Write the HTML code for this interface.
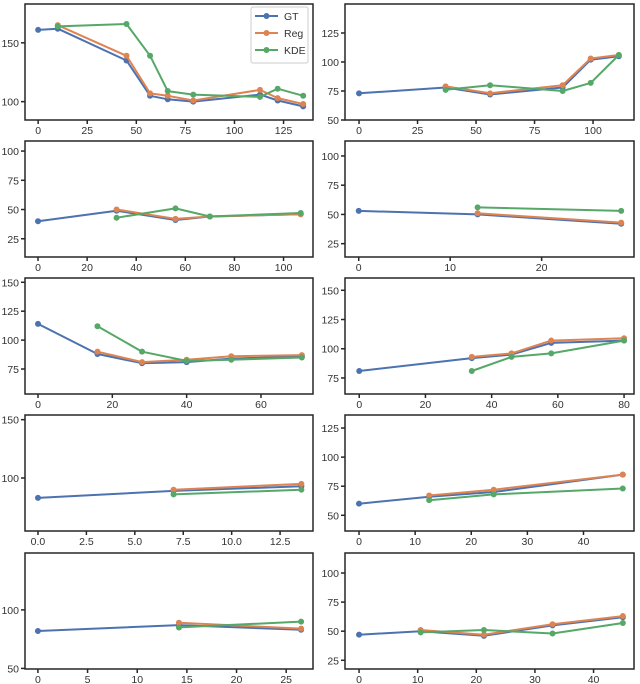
<!DOCTYPE html>
<html><head><meta charset="utf-8"><style>
body{margin:0;background:#fff;}
svg{display:block;font-family:"Liberation Sans","DejaVu Sans",sans-serif;}
</style></head><body>
<svg id="fig" width="640" height="684" viewBox="0 0 640 684"></svg>
<script>
const panelXDomains=[[-6.7,140],[-6,117.5],[-5.3,112],[-1.5,30.1],[-3.5,74],[-4.3,83],[-0.67,14.2],[-2.5,49],[-1.3,27.7],[-2.4,46.9]];
const panelYDomains=[[84.4,183],[50,150],[9.4,108.6],[13.6,112.8],[53.4,153.7],[61.3,160.5],[54.6,154],[36.5,136.2],[49.5,148.6],[17.5,117.2]];
const xTicks=[[0,25,50,75,100,125],[0,25,50,75,100],[0,20,40,60,80,100],[0,10,20],[0,20,40,60],[0,20,40,60,80],[0,2.5,5,7.5,10,12.5],[0,10,20,30,40],[0,5,10,15,20,25],[0,10,20,30,40]];
const xTickLabels=[["0","25","50","75","100","125"],["0","25","50","75","100"],["0","20","40","60","80","100"],["0","10","20"],["0","20","40","60"],["0","20","40","60","80"],["0.0","2.5","5.0","7.5","10.0","12.5"],["0","10","20","30","40"],["0","5","10","15","20","25"],["0","10","20","30","40"]];
const yTicks=[[100,150],[50,75,100,125],[25,50,75,100],[25,50,75,100],[75,100,125,150],[75,100,125,150],[100,150],[50,75,100,125],[50,100],[25,50,75,100]];
const gtX=[[0,10,45,57,66,79,113,122,135],[0,37,56,87,99,111],[0,32,56,70,107],[0,13,28.7],[0,16,28,40,52,71],[0,34,46,58,80],[0,7,13.6],[0,12.5,24,47],[0,14.2,26.5],[0,10.5,21.3,33,45]];
const gtY=[[161,162,135,105,102,100,106,101,96],[73,78,72,78,102,105],[40,49,41,44,46],[53,50,42],[114,88,80,81,84,86],[81,92,95,105,107],[83,89,93],[60,66,70,85],[82,87,83],[47,50,46,55,62]];
const regX=[[10,45,57,66,79,113,122,135],[37,56,87,99,111],[32,56,70,107],[13,28.7],[16,28,40,52,71],[34,46,58,80],[7,13.6],[12.5,24,47],[14.2,26.5],[10.5,21.3,33,45]];
const regY=[[165,139,107,105,101,110,103,98],[79,73,80,103,106],[50,42,44,46],[51,43],[90,81,83,86,87],[93,96,107,109],[90,95],[67,72,85],[89,84],[51,47,56,63]];
const kdeX=regX;
const kdeY=[[164,166,139,109,106,104,111,105],[76,80,75,82,106],[43,51,44,47],[56,53],[112,90,82,83,85],[81,93,96,107],[86,90],[63,68,73],[85,90],[49,51,48,57]];
const seriesNames=["GT","Reg","KDE"];
const colors=["#4c72b0","#dd8452","#55a868"];

const NS="http://www.w3.org/2000/svg";
const fig=document.getElementById('fig');
function mk(tag,attrs,parent){const e=document.createElementNS(NS,tag);for(const k in attrs)e.setAttribute(k,attrs[k]);(parent||fig).appendChild(e);return e;}
const colL=[25,345],colR=[313,634];
const rowT=[4,141,278,415,553],H=116;
for(let p=0;p<10;p++){
  const r=Math.floor(p/2),c=p%2;
  const L=colL[c],R=colR[c],T=rowT[r],B=T+H;
  const [x0,x1]=panelXDomains[p],[y0,y1]=panelYDomains[p];
  const sx=v=>L+(v-x0)/(x1-x0)*(R-L);
  const sy=v=>B-(v-y0)/(y1-y0)*(B-T);
  const g=mk('g',{});
  
  
  const data=[[gtX[p],gtY[p]],[regX[p],regY[p]],[kdeX[p],kdeY[p]]];
  [0,1,2].forEach(s=>{
    const [xs,ys]=data[s];
    const sg=mk('g',{},g);
    
    
    const pts=xs.map((x,i)=>sx(x).toFixed(1)+','+sy(ys[i]).toFixed(1)).join(' ');
    const pl=mk('polyline',{points:pts,fill:'none',stroke:colors[s],'stroke-width':2,'stroke-linejoin':'round'},sg);
    
    
    xs.forEach((x,i)=>{
      const ci=mk('circle',{cx:sx(x),cy:sy(ys[i]),r:3,fill:colors[s]},sg);
      
      
    });
  });
  const fr=mk('rect',{x:L,y:T,width:R-L,height:H,fill:'none',stroke:'#262626','stroke-width':1.5},g);
  
  
  xTicks[p].forEach((v,i)=>{
    const x=sx(v);
    const t=mk('line',{x1:x,x2:x,y1:B,y2:B+4,stroke:'#262626','stroke-width':1.5},g);
    
    
    const tx=mk('text',{x:x,y:B+14,'font-size':10.5,fill:'#333','text-anchor':'middle'},g);
    tx.textContent=xTickLabels[p][i];
    
    
  });
  yTicks[p].forEach(v=>{
    const y=sy(v);
    const t=mk('line',{x1:L-4,x2:L,y1:y,y2:y,stroke:'#262626','stroke-width':1.5},g);
    
    
    const tx=mk('text',{x:L-6,y:y+4,'font-size':10.5,fill:'#333','text-anchor':'end'},g);
    tx.textContent=String(v);
    
    
  });
}
const lg=mk('g',{});


const lr=mk('rect',{x:251,y:7,width:57,height:56,rx:2,fill:'#fff',stroke:'#ccc','stroke-width':1},lg);


seriesNames.forEach((n,i)=>{
  const y=16+i*17;
  const e=mk('g',{},lg);
  
  
  mk('line',{x1:255,x2:278,y1:y,y2:y,stroke:colors[i],'stroke-width':2},e);
  mk('circle',{cx:266.5,cy:y,r:3,fill:colors[i]},e);
  const t=mk('text',{x:284,y:y+4,'font-size':10.5,fill:'#333'},e);
  t.textContent=n;
});
</script>
</body></html>
